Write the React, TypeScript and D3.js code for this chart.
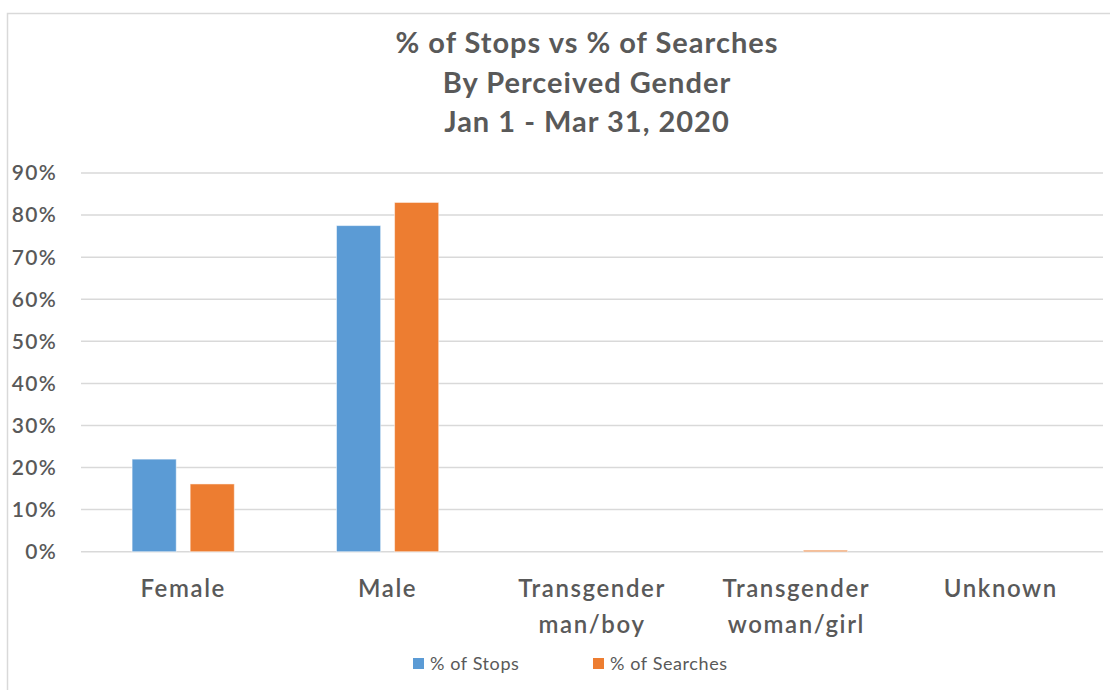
import React from "react";
import * as d3 from "d3";

const categories = [["Female"], ["Male"], ["Transgender", "man/boy"], ["Transgender", "woman/girl"], ["Unknown"]];
const categoryKeys = ["Female", "Male", "Transgender man/boy", "Transgender woman/girl", "Unknown"];
const stopsValues = [22.0, 77.5, 0, 0, 0];
const searchesValues = [16.1, 83.0, 0, 0.35, 0];
const seriesNames = ["% of Stops", "% of Searches"];
const seriesColors = ["#5B9BD5", "#ED7D31"];
const yTicks = [0, 10, 20, 30, 40, 50, 60, 70, 80, 90];
const titleLines = ["% of Stops vs % of Searches", "By Perceived Gender", "Jan 1 - Mar 31, 2020"];

const W = 1110;
const H = 690;
const FONT = "Lato, 'Open Sans', sans-serif";

export default function App() {
  const plotLeft = 81;
  const plotRight = 1103;
  const y = d3.scaleLinear().domain([0, 90]).range([551.7, 173]);
  const x0 = d3.scaleBand<string>().domain(categoryKeys).range([plotLeft, plotRight]).paddingInner(0.5).paddingOuter(0.25);
  const x1 = d3.scaleBand<string>().domain(seriesNames).range([0, x0.bandwidth()]).paddingInner(0.24);
  const series = [stopsValues, searchesValues];
  const grid = "#d9d9d9";
  const text = "#595959";

  return (
    <svg width={W} height={H} style={{ position: "absolute", left: 0, top: 0, background: "#fff" }} fontFamily={FONT}>
      <rect x={0} y={0} width={W} height={H} fill="#fff" />
      <rect x={7.5} y={13.5} width={W + 20} height={H + 20} fill="none" stroke={grid} strokeWidth={1.5} />
      {titleLines.map((t, i) => (
        <text key={t} x={587} y={53 + i * 39.5} textAnchor="middle" fontSize={29} fontWeight="bold" fill={text} letterSpacing={1}>
          {t}
        </text>
      ))}
      {yTicks.map((t) => (
        <g key={t}>
          <line x1={plotLeft} x2={plotRight} y1={y(t)} y2={y(t)} stroke={grid} strokeWidth={1.5} />
          <text x={57} y={y(t)} dy="0.35em" textAnchor="end" fontSize={21} fill={text} fontWeight={600} letterSpacing={1.3}>
            {t}%
          </text>
        </g>
      ))}
      {categoryKeys.map((c, ci) => (
        <g key={c} transform={`translate(${x0(c)},0)`}>
          {series.map((vals, si) => {
            const v = vals[ci];
            const h = y(0) - y(v);
            return (
              <rect
                key={si}
                x={x1(seriesNames[si])}
                y={y(v)}
                width={x1.bandwidth()}
                height={Math.max(0, h)}
                fill={seriesColors[si]}
                stroke={h > 1 ? "#ffffff" : "none"}
                strokeOpacity={0.5}
                strokeWidth={1}
              />
            );
          })}
        </g>
      ))}
      {categories.map((lines, ci) => (
        <text key={ci} x={(x0(categoryKeys[ci]) as number) + x0.bandwidth() / 2} y={597} textAnchor="middle" fontSize={24} fill={text} fontWeight={600} letterSpacing={1.6}>
          {lines.map((l, li) => (
            <tspan key={li} x={(x0(categoryKeys[ci]) as number) + x0.bandwidth() / 2} dy={li === 0 ? 0 : 36}>
              {l}
            </tspan>
          ))}
        </text>
      ))}
      {seriesNames.map((s, i) => {
        const lx = [413, 593][i];
        return (
          <g key={s}>
            <rect x={lx} y={658} width={11} height={11} fill={seriesColors[i]} />
            <text x={lx + 17} y={669.5} fontSize={18} fill={text} letterSpacing={0.6}>
              {s}
            </text>
          </g>
        );
      })}
    </svg>
  );
}
